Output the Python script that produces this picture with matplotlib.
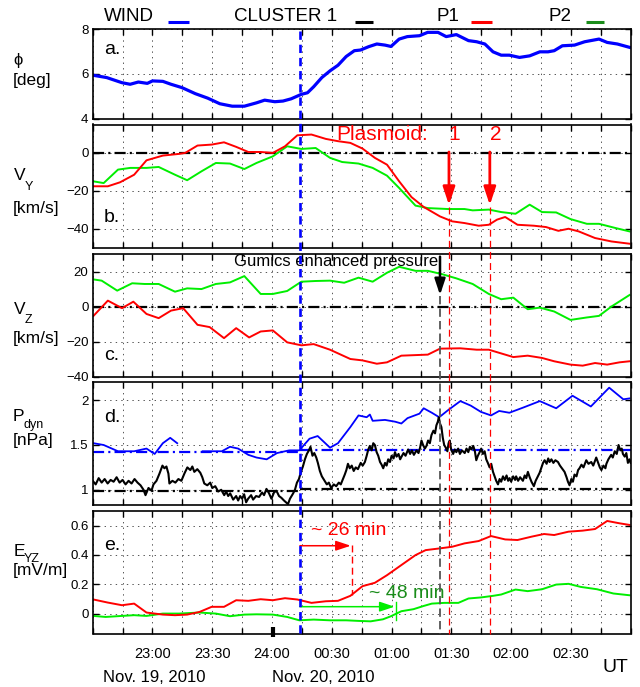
import numpy as np
import matplotlib
matplotlib.use("Agg")
import matplotlib.pyplot as plt
from matplotlib.lines import Line2D
from matplotlib.ticker import MultipleLocator, FixedLocator, FuncFormatter
import matplotlib.transforms as mtransforms

# ---------------- data (time in minutes relative to 24:00 on Nov. 19, 2010) ----------------
t_phi = [-89.6, -83, -75.3, -71.2, -67.1, -62.6, -60, -54.8, -50.7, -45.2, -38.5, -32.3, -26.2,
         -20, -13.9, -7.8, -3.7, 1.4, 5.5, 9.6, 14.7, 17.8, 20.9, 25, 29.1, 33.1, 37.2, 41.3,
         44.4, 48.5, 52.6, 56.7, 59.7, 63.8, 67.9, 74, 78.1, 83.3, 87.4, 92.5, 98.6, 102.7,
         106.8, 110.9, 115, 119.1, 124.2, 129.3, 134.4, 138.5, 141.6, 145.7, 151.8, 156.9,
         164.1, 168.2, 173.3, 179.4]
phi_wind = [5.93, 5.83, 5.6, 5.53, 5.63, 5.57, 5.68, 5.66, 5.53, 5.38, 5.11, 4.91, 4.66,
            4.55, 4.55, 4.70, 4.82, 4.75, 4.78, 4.88, 5.08, 5.15, 5.42, 5.83, 6.13, 6.38, 6.77,
            7.03, 7.06, 7.21, 7.33, 7.28, 7.22, 7.55, 7.66, 7.70, 7.85, 7.85, 7.66, 7.75, 7.48,
            7.43, 7.33, 6.98, 6.83, 6.83, 6.73, 6.80, 6.98, 6.98, 7.03, 7.25, 7.28, 7.43,
            7.55, 7.40, 7.33, 7.18]

t_vy_p1 = [-89.6, -82.4, -76.3, -69.2, -63, -54.8, -46.6, -43.6, -37.4, -30.3, -24.1, -18,
           -11.9, -5.7, 0.4, 6.5, 12.7, 19.8, 27, 33.1, 39.3, 45.4, 51.6, 57.7, 63.8, 70,
           76.1, 84.3, 90.4, 96.6, 103.7, 108.8, 112.9, 117, 123.2, 131.4, 137.5, 143.7,
           148.8, 153.9, 162.1, 170.3, 179.4]
vy_p1 = [-17.6, -17.6, -15.5, -11.5, -3.9, -1.4, -0.5, 0, 3.9, 4.4, 5.6, 3.2, 0.5, 0.5, 0,
         3.5, 9.3, 9.7, 7.4, 6.2, 5.3, 2.3, -2.6, -6.2, -15, -23.3, -28.5, -33.5, -36.1,
         -37, -38.4, -37.9, -35.2, -33.8, -37.9, -38.4, -39.1, -41.1, -40, -41.4, -44.9,
         -46.7, -47.9]
t_vy_p2 = [-89.6, -84.5, -77.3, -71.2, -63, -56.9, -48.7, -42.6, -35.4, -28.2, -21.1, -13.9,
           -7.8, 0.4, 7.6, 14.7, 21.9, 29.1, 35.2, 43.4, 50.5, 57.7, 63.8, 72, 78.2, 88.4,
           96.6, 100.7, 108.8, 115, 122.2, 129.3, 135.5, 142.6, 149.8, 158, 164.1, 172.3, 179.4]
vy_p2 = [-15, -15.9, -8.8, -7.9, -7.9, -7.4, -11.5, -14.4, -9.7, -5.3, -5.6, -8.5, -5.3,
         -1.8, 3.5, 2.1, 2.6, -2.6, -4.8, -5.6, -7.9, -12, -18.5, -27.8, -29.1, -29.6,
         -29.6, -30.3, -29.9, -31.2, -32.1, -27.3, -31.2, -31.4, -34.9, -37.4, -37.4,
         -39.6, -41.4]

t_vz_p2 = [-89.6, -85.5, -77.7, -70.2, -64, -56.9, -48.7, -42.6, -35.4, -28.2, -21.1, -13.9,
           -5.7, 0.4, 7.6, 14.7, 21.9, 29.1, 36.2, 43.4, 50.5, 57.7, 63.8, 72, 78.2, 85.3,
           92.5, 100.7, 108.8, 115, 121.1, 128.3, 134.4, 141.6, 149.8, 158, 164.1, 170.3, 179.4]
vz_p2 = [15.5, 14.8, 9.1, 13.3, 12.9, 12.9, 8.5, 10.4, 10, 12.9, 13.8, 17.4, 7.2, 7.2, 8.9,
         14.2, 14.6, 14.8, 13.6, 16.5, 14.2, 19.3, 22.7, 20.4, 20.4, 18.5, 16.1, 12.9, 7.2,
         4.2, 5.1, -1.5, -0.6, -2.8, -7.6, -6.2, -5.3, 0, 6.6]
t_vz_p1 = [-89.6, -82.4, -75.3, -69.6, -63, -56.9, -50.7, -44.6, -37.4, -31.3, -24.1, -18,
           -11.5, -5.7, 0.4, 7.6, 14.7, 20.9, 29.1, 39.3, 45.4, 52.6, 57.7, 64.9, 78.2, 84.3,
           94.5, 102.7, 108.8, 121.1, 128.3, 135.5, 141.6, 149.8, 155.9, 162.1, 168.2, 174.4, 179.4]
vz_p1 = [-5.3, 3.4, -0.9, 2.8, -4.2, -6.6, -2.3, -0.9, -10.4, -11.7, -18, -12.3, -17.6,
         -14.2, -13.6, -20.4, -22.1, -21.4, -24.6, -29.9, -30.7, -32.6, -31.8, -28, -27.4,
         -24, -23.8, -24.6, -24.6, -28.8, -28, -29.3, -31.2, -33.1, -33.7, -32.2, -33.1,
         -31.8, -31.2]

t_pdyn_wind = [-89.6, -84.5, -77.3, -69.2, -63, -58.9, -54.8, -51.1, -47.6, -41,
               -34.8, -30.3, -25.2, -21.1, -17, -11.9, -7.8, -2.7, 2.5, 8.6, 13.7, 18.8, 22.9,
               29.1, 33.1, 39.3, 43.4, 47.5, 49.1, 50.5, 56.7, 61.8, 64.9, 68, 74, 76.1, 80.2,
               83.9, 88.4, 94.5, 99.7, 104.8, 109.9, 114, 119.1, 126.3, 134.4, 142.6, 150.8,
               160, 169.2, 176.3, 179.4]
pdyn_wind = [1.52, 1.5, 1.43, 1.43, 1.46, 1.40, 1.52, 1.58, 1.52, np.nan,
             1.43, 1.43, 1.43, 1.48, 1.46, 1.39, 1.36, 1.34, 1.41, 1.44, 1.44, 1.57, 1.60,
             1.47, 1.52, 1.70, 1.83, 1.81, 1.84, 1.77, 1.78, 1.76, 1.74, 1.80, 1.85, 1.91, 1.86,
             1.81, 1.89, 1.99, 1.94, 1.87, 1.83, 1.88, 1.86, 1.92, 1.99, 1.91, 2.05,
             1.93, 2.14, 2.01, 2.02]

t_pdyn_c1 = [-90, -88.5, -87, -85.5, -84, -82.5, -81, -79.5, -78, -76.5, -75, -73.5, -72,
             -70.5, -69, -67.5, -66, -64.5, -63.5, -62, -60.5, -59.5, -58, -56.5, -55, -54,
             -53, -52, -51.5, -50, -48.5, -47, -45.5, -44, -42.5, -41, -40, -39, -37.5, -36,
             -35, -34, -32.5, -31, -30, -28.5, -27, -25.5, -24, -23, -22, -21, -19.5, -18,
             -17, -16, -15, -14, -13, -12, -10.5, -9.5, -8, -6.5, -5, -4, -2.8, -1.5, -0.3,
             1, 2.2, 3.5, 4.7, 6, 7, 8, 9, 10.6, 11.5, 12.5, 13.5, 14.5, 15.5, 16.5, 17.5,
             18.5, 19.3, 20.3, 21.2, 22.2, 23, 24, 25, 26.4, 27.5, 28.5, 29.7, 31, 32.2, 33.5,
             34.5, 35.6, 36.5, 37.3, 38.1, 39, 40, 41, 42, 43.1, 44.5, 45.5, 46.6, 47.5, 48.3,
             49.1, 50, 50.8, 51.6, 52.5, 53.3, 54.2, 55, 55.8, 56.7, 57.5, 58.3, 59.2, 60, 61,
             61.7, 62.5, 63.5, 64.3, 65, 66, 67, 68.3, 69.3, 70.2, 71.2, 72.5, 73.5, 74.3, 75,
             75.8, 76.7, 77.5, 78.3, 79.2, 80, 81, 81.8, 82.5, 83.2, 83.7, 84.3, 85, 85.7,
             86.4, 87.2, 88, 88.6, 89.2, 89.9, 90.9, 91.7, 92.5, 93.4, 94.3, 95.3, 96.7, 97.6,
             98.5, 99.3, 100, 101, 101.8, 102.5, 103.3, 104.2, 105, 105.8, 106.7, 107.5,
             108.3, 109.2, 110, 110.9, 111.7, 112.5, 113.4, 114.2, 115, 115.9, 116.8, 117.7,
             118.5, 119.2, 120, 121, 122, 122.5, 123.5, 124.5, 125.9, 126.8, 127.6, 128.4,
             129.3, 130.2, 131.4, 132.3, 133.2, 134.3, 135.2, 136, 136.8, 137.8, 138.6, 139.3,
             140.2, 141.2, 142.2, 143.5, 144.5, 145.5, 146.8, 147.8, 148.5, 149.3, 150.2, 151,
             151.8, 152.8, 153.6, 154.3, 155.3, 156.3, 157.7, 158.8, 160.2, 161.2, 162.7,
             163.7, 164.5, 165.3, 166.3, 167.3, 167.8, 168.8, 170.2, 171, 172, 173, 173.9,
             174.8, 175.5, 176.1, 177, 177.8, 178.6, 179.4, 180]
pdyn_c1 = [1.10, 1.06, 1.13, 1.08, 1.12, 1.07, 1.11, 1.09, 1.14, 1.08, 1.11, 1.06, 1.10,
           1.07, 1.12, 1.08, 1.05, 1.00, 0.94, 1.02, 0.99, 1.06, 1.10, 1.18, 1.27, 1.24,
           1.26, 1.18, 1.07, 1.10, 1.08, 1.12, 1.10, 1.18, 1.25, 1.22, 1.26, 1.20, 1.23, 1.19,
           1.14, 1.07, 1.05, 1.08, 1.02, 1.04, 0.98, 1.00, 0.94, 0.98, 0.93, 0.96, 0.89, 0.93,
           0.88, 0.93, 0.90, 0.95, 0.86, 0.90, 0.94, 0.89, 0.93, 0.92, 0.97, 0.94, 1.01, 0.96,
           0.90, 0.97, 0.99, 0.93, 0.91, 0.88, 0.86, 0.84, 0.90, 0.96, 1.00, 1.08, 1.12, 1.20,
           1.26, 1.34, 1.40, 1.44, 1.48, 1.38, 1.41, 1.36, 1.30, 1.21, 1.15, 1.10, 1.06, 1.08,
           1.02, 1.06, 1.04, 1.08, 1.06, 1.12, 1.17, 1.22, 1.29, 1.24, 1.27, 1.21, 1.25, 1.23,
           1.30, 1.27, 1.31, 1.38, 1.45, 1.49, 1.44, 1.52, 1.50, 1.42, 1.38, 1.31, 1.28, 1.24,
           1.30, 1.27, 1.34, 1.31, 1.38, 1.35, 1.42, 1.37, 1.40, 1.34, 1.37, 1.41, 1.38, 1.45,
           1.40, 1.44, 1.39, 1.44, 1.41, 1.47, 1.55, 1.50, 1.46, 1.49, 1.55, 1.52, 1.61, 1.66,
           1.63, 1.72, 1.76, 1.81, 1.74, 1.70, 1.58, 1.50, 1.47, 1.43, 1.52, 1.55, 1.45, 1.40,
           1.45, 1.42, 1.46, 1.40, 1.44, 1.41, 1.46, 1.42, 1.48, 1.45, 1.49, 1.43, 1.33, 1.38,
           1.42, 1.46, 1.40, 1.43, 1.34, 1.30, 1.25, 1.29, 1.20, 1.15, 1.10, 1.06, 1.12, 1.09,
           1.15, 1.11, 1.16, 1.10, 1.13, 1.09, 1.15, 1.11, 1.15, 1.10, 1.14, 1.10, 1.16, 1.13,
           1.20, 1.14, 1.09, 1.04, 1.10, 1.14, 1.19, 1.25, 1.30, 1.33, 1.29, 1.35, 1.31, 1.34,
           1.30, 1.33, 1.31, 1.27, 1.24, 1.20, 1.14, 1.09, 1.05, 1.12, 1.09, 1.17, 1.15, 1.22,
           1.24, 1.28, 1.25, 1.33, 1.29, 1.31, 1.27, 1.36, 1.30, 1.25, 1.22, 1.27, 1.24, 1.29,
           1.34, 1.39, 1.36, 1.43, 1.40, 1.50, 1.44, 1.46, 1.40, 1.37, 1.41, 1.30, 1.34, 1.30]

# mean dynamic-pressure levels before / after the front
wind_mean = [1.42, 1.44]
c1_mean = [0.99, 1.01]

t_eyz_p1 = [-89.6, -82.4, -75.3, -69.2, -63, -54.8, -48.7, -42.6, -36.4, -30.3, -24.1, -18,
            -11.9, -5.7, 0.4, 6.5, 12.7, 19.8, 27, 33.1, 39.3, 45.4, 51.6, 57.7, 64.9, 72,
            77.1, 84.3, 90.4, 96.6, 103.7, 109.9, 117, 123.2, 130.3, 136.5, 141.6, 148.8,
            155.9, 162.1, 168.2, 174.4, 179.4]
eyz_p1 = [0.096, 0.075, 0.057, 0.068, 0.007, -0.007, -0.011, -0.007, 0.011, 0.046, 0.046,
          0.091, 0.087, 0.098, 0.091, 0.105, 0.096, 0.073, 0.084, 0.087, 0.121, 0.187, 0.210,
          0.262, 0.331, 0.399, 0.433, 0.445, 0.456, 0.479, 0.495, 0.529, 0.506, 0.502, 0.525,
          0.543, 0.536, 0.559, 0.566, 0.577, 0.632, 0.616, 0.605]
t_eyz_p2 = [-89.6, -83.5, -75.3, -69.2, -63, -54.8, -46.6, -36.4, -28.2, -21.1, -13.9, -7.8,
            0.4, 7.6, 13.7, 20.9, 29.1, 37.2, 43.4, 49.5, 55.7, 59.7, 64.9, 71, 76.1, 80.2,
            86.4, 93.5, 98.6, 104.8, 110.9, 115, 122.2, 128.3, 135.5, 142.6, 148.8, 154.9,
            163.1, 171.3, 179.4]
eyz_p2 = [-0.016, -0.023, -0.016, -0.011, -0.016, 0, 0, 0.007, 0, -0.018, -0.007, -0.005,
          -0.007, -0.023, -0.046, -0.041, -0.046, -0.046, -0.050, -0.053, -0.039, -0.018,
          0.016, 0.030, 0.052, 0.068, 0.073, 0.073, 0.103, 0.110, 0.121, 0.130, 0.164, 0.153,
          0.166, 0.198, 0.203, 0.182, 0.166, 0.137, 0.125]

# event times (min)
t_front = 14.0
t_p1_arr = 40.0
t_p2_arr = 62.0
t_gumics = 84.3
t_plasmoid = [88.8, 109.3]

tick_minutes = [-60, -30, 0, 30, 60, 90, 120, 150]
tick_labels = ["23:00", "23:30", "24:00", "00:30", "01:00", "01:30", "02:00", "02:30"]

legend_names = ["WIND", "CLUSTER 1", "P1", "P2"]

# ---------------- styling ----------------
plt.rcParams['font.family'] = ['Liberation Sans', 'DejaVu Sans']
plt.rcParams['lines.scale_dashes'] = False
plt.rcParams['axes.unicode_minus'] = True

BLUE = '#0000ff'
RED = '#ff0000'
GREEN = '#00ee00'
DKGREEN = '#1a8c1a'
DASHDOT = (0, (8, 3, 1.5, 3))

W, H = 640, 687
fig = plt.figure(figsize=(6.4, 6.87), dpi=100)


def fx(px):
    return px / W


def fy(py):
    return 1 - py / H


AX_L, AX_R = 92.7, 630.7
panels = [(29, 118.5), (124.5, 247.7), (254, 376.7), (382.3, 505), (511, 633.5)]
axes = []
for top, bot in panels:
    ax = fig.add_axes([fx(AX_L), fy(bot), (AX_R - AX_L) / W, (bot - top) / H])
    axes.append(ax)

label_map = dict(zip(tick_minutes, tick_labels))

for i, ax in enumerate(axes):
    ax.set_xlim(-90, 180)
    ax.xaxis.set_major_locator(MultipleLocator(15))
    ax.grid(True, linestyle=(0, (1, 3)), color='#555555', lw=0.7)
    ax.tick_params(direction='in', top=True, right=True, length=4, width=1,
                   labelsize=9.5, pad=3)
    for s in ax.spines.values():
        s.set_linewidth(1.2)
    if i < 4:
        ax.tick_params(labelbottom=False)
    else:
        ax.xaxis.set_major_formatter(FuncFormatter(lambda v, p: label_map.get(int(round(v)), '')))
        ax.tick_params(axis='x', labelsize=10.5, pad=10)

fmt = FuncFormatter(lambda v, p: ('%g' % v).replace('-', '\u2212'))

# panel a
ax = axes[0]
ax.plot(t_phi, phi_wind, color=BLUE, lw=2.3)
ax.set_ylim(4, 8)
ax.yaxis.set_major_locator(FixedLocator([4, 6, 8]))
ax.yaxis.set_major_formatter(fmt)

# panel b
ax = axes[1]
ax.axhline(0, color='black', lw=1.6, linestyle=DASHDOT)
ax.plot(t_vy_p2, vy_p2, color=GREEN, lw=1.4)
ax.plot(t_vy_p1, vy_p1, color=RED, lw=1.4)
ax.set_ylim(-50, 15)
ax.yaxis.set_major_locator(FixedLocator([-40, -20, 0]))
ax.yaxis.set_major_formatter(fmt)
for tp in t_plasmoid:
    ax.annotate('', xy=(tp, -27.5), xytext=(tp, 0.5),
                arrowprops=dict(arrowstyle='-|>,head_length=0.6,head_width=0.2',
                                color=RED, lw=2, mutation_scale=18, shrinkA=0, shrinkB=0))

# panel c
ax = axes[2]
ax.axhline(0, color='black', lw=1.6, linestyle=DASHDOT)
ax.plot(t_vz_p2, vz_p2, color=GREEN, lw=1.4)
ax.plot(t_vz_p1, vz_p1, color=RED, lw=1.4)
ax.set_ylim(-40, 30)
ax.yaxis.set_major_locator(FixedLocator([-40, -20, 0, 20]))
ax.yaxis.set_major_formatter(fmt)
ax.annotate('', xy=(t_gumics, 6.6), xytext=(t_gumics, 28.5),
            arrowprops=dict(arrowstyle='-|>,head_length=0.6,head_width=0.2',
                            color='black', lw=1.8, mutation_scale=16, shrinkA=0, shrinkB=0))
ax.text(t_gumics - 0.8, 25.9, 'Gumics enhanced pressure', ha='right', va='center',
        fontsize=12, color='black')

# panel d
ax = axes[3]
ax.plot([-90, t_front], [wind_mean[0]] * 2, color=BLUE, lw=1.6, linestyle=DASHDOT)
ax.plot([t_front, 180], [wind_mean[1]] * 2, color=BLUE, lw=1.6, linestyle=DASHDOT)
ax.plot([-90, t_front], [c1_mean[0]] * 2, color='black', lw=1.6, linestyle=DASHDOT)
ax.plot([t_front, 180], [c1_mean[1]] * 2, color='black', lw=1.6, linestyle=DASHDOT)
ax.plot(t_pdyn_wind, pdyn_wind, color=BLUE, lw=1.3)
ax.plot(t_pdyn_c1, pdyn_c1, color='black', lw=1.5)
ax.set_ylim(0.83, 2.2)
ax.yaxis.set_major_locator(FixedLocator([1, 1.5, 2]))
ax.yaxis.set_major_formatter(fmt)

# panel e
ax = axes[4]
ax.plot(t_eyz_p2, eyz_p2, color=GREEN, lw=1.4)
ax.plot(t_eyz_p1, eyz_p1, color=RED, lw=1.4)
ax.set_ylim(-0.136, 0.70)
ax.yaxis.set_major_locator(FixedLocator([0, 0.2, 0.4, 0.6]))
ax.yaxis.set_major_formatter(fmt)
ax.annotate('', xy=(t_p1_arr - 0.5, 0.463), xytext=(t_front, 0.463),
            arrowprops=dict(arrowstyle='-|>,head_length=0.6,head_width=0.2',
                            color=RED, lw=1.1, mutation_scale=15, shrinkA=0, shrinkB=0))
ax.plot([t_p1_arr, t_p1_arr], [0.47, 0.125], color=RED, lw=1, linestyle=(0, (5, 3)))
ax.annotate('', xy=(t_p2_arr - 0.5, 0.047), xytext=(t_front, 0.047),
            arrowprops=dict(arrowstyle='-|>,head_length=0.6,head_width=0.2',
                            color=GREEN, lw=1.1, mutation_scale=15, shrinkA=0, shrinkB=0))
ax.plot([t_p2_arr, t_p2_arr], [0.08, -0.045], color=GREEN, lw=1)
ax.text(19.8, 0.57, '~ 26 min', color=RED, fontsize=14, ha='left', va='center')
ax.text(48.5, 0.137, '~ 48 min', color=DKGREEN, fontsize=14, ha='left', va='center')

# ---------------- figure-spanning vertical markers ----------------
trans = mtransforms.blended_transform_factory(axes[4].transData, fig.transFigure)


def vline_fig(t, ytop, ybot, **kw):
    fig.add_artist(Line2D([t, t], [fy(ytop), fy(ybot)], transform=trans, **kw))


vline_fig(t_gumics, 296, 633.5, color='#555555', lw=1.3, linestyle=(0, (6, 3)))
for tp in t_plasmoid:
    vline_fig(tp, 207, 633.5, color=RED, lw=0.9, linestyle=(0, (5, 3)))
vline_fig(t_front, 31, 634, color=BLUE, lw=1.9, linestyle=(0, (6, 3.5)))
vline_fig(0.3, 627, 637, color='black', lw=3, solid_capstyle='butt')

# ---------------- texts ----------------
# legend
leg_text_x = [104.2, 233.8, 436.4, 548.8]
leg_seg = [(168.4, 188.8), (354.5, 373), (471.1, 491.6), (585.7, 604.1)]
leg_col = [BLUE, 'black', RED, DKGREEN]
for name, xt, (s0, s1), c in zip(legend_names, leg_text_x, leg_seg, leg_col):
    fig.text(fx(xt), fy(16.5), name, fontsize=13.5, ha='left', va='center')
    fig.add_artist(Line2D([fx(s0), fx(s1)], [fy(22), fy(22)], color=c, lw=2.2,
                          transform=fig.transFigure, solid_capstyle='butt'))

# panel letters
for letter, yc in zip(['a.', 'b.', 'c.', 'd.', 'e.'], [50, 218, 356, 417, 545]):
    fig.text(fx(104), fy(yc), letter, fontsize=14, ha='left', va='center')

# y-axis labels
fig.text(fx(13), fy(60), '\u03d5', fontsize=12, ha='left', va='center')
fig.text(fx(13), fy(81), '[deg]', fontsize=12.5, ha='left', va='center')
fig.text(fx(14), fy(176), 'V', fontsize=12.5, ha='left', va='center')
fig.text(fx(25), fy(187), 'Y', fontsize=9, ha='left', va='center')
fig.text(fx(13), fy(209), '[km/s]', fontsize=12.5, ha='left', va='center')
fig.text(fx(14), fy(310), 'V', fontsize=12.5, ha='left', va='center')
fig.text(fx(25), fy(320), 'Z', fontsize=9, ha='left', va='center')
fig.text(fx(13), fy(339), '[km/s]', fontsize=12.5, ha='left', va='center')
fig.text(fx(13), fy(416), 'P', fontsize=12.5, ha='left', va='center')
fig.text(fx(24), fy(425), 'dyn', fontsize=9, ha='left', va='center')
fig.text(fx(13), fy(440), '[nPa]', fontsize=12.5, ha='left', va='center')
fig.text(fx(14), fy(552), 'E', fontsize=12.5, ha='left', va='center')
fig.text(fx(24), fy(559), 'YZ', fontsize=9, ha='left', va='center')
fig.text(fx(13), fy(571), '[mV/m]', fontsize=12.5, ha='left', va='center')

# plasmoid labels
fig.text(fx(336), fy(134.5), 'Plasmoid:', fontsize=15, color=RED, ha='left', va='center')
fig.text(fx(454), fy(134.5), '1', fontsize=15, color=RED, ha='center', va='center')
fig.text(fx(496), fy(134.5), '2', fontsize=15, color=RED, ha='center', va='center')

# dates and UT
fig.text(fx(102.7), fy(677), 'Nov. 19, 2010', fontsize=12, ha='left', va='center')
fig.text(fx(271.7), fy(677), 'Nov. 20, 2010', fontsize=12, ha='left', va='center')
fig.text(fx(603), fy(667.5), 'UT', fontsize=14, ha='left', va='center')

fig.savefig('out.png', dpi=100)
